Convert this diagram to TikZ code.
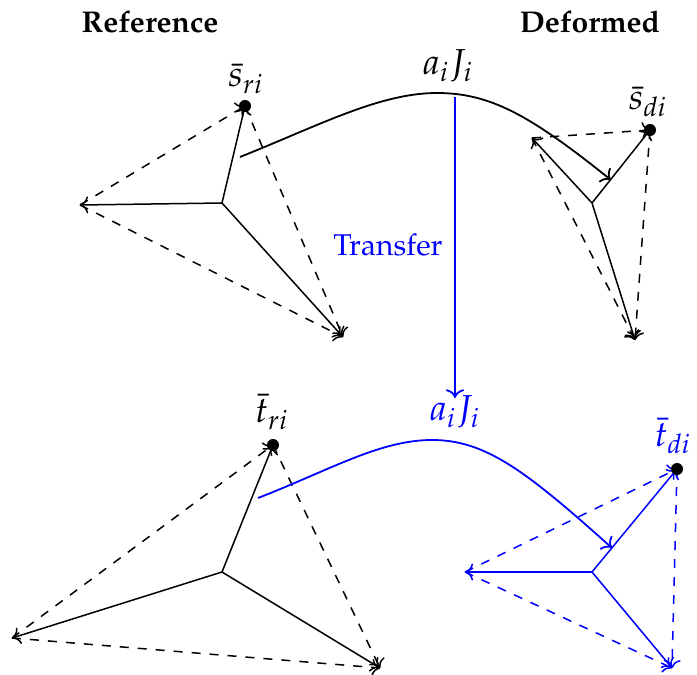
\documentclass[tikz,border=0pt]{standalone}
\usepackage[T1]{fontenc}
\usepackage{mathpazo}
\usetikzlibrary{arrows.meta}
\tikzset{
  punta/.style={circle,fill=black,inner sep=0pt,minimum size=4pt},
  brazo/.style={->,line width=0.5pt},
  borde/.style={->,dashed,line width=0.5pt},
  mapa/.style={->,line width=0.6pt},
  titulo/.style={font=\bfseries},
  etiq/.style={inner sep=0.5pt,font=\large},
}

\begin{document}
\begin{tikzpicture}[x=0.0117cm,y=-0.0117cm]
\useasboundingbox (0,0) rectangle (697,675);
% titles
\node[titulo] (tref) at (150,22) {Reference};
\node[titulo] (tdef) at (590,22) {Deformed};
% reference, top
\coordinate (rc) at (222,203);
\coordinate (rs) at (245,106);
\coordinate (rl) at (80,205);
\coordinate (rb) at (343,337);
% deformed, top
\coordinate (dc) at (592,203);
\coordinate (ds) at (650,130);
\coordinate (dl) at (532,138);
\coordinate (db) at (635,340);
% reference, bottom
\coordinate (tc) at (222,572);
\coordinate (ts) at (273,445);
\coordinate (tl) at (12,638);
\coordinate (tb) at (380,668);
% deformed, bottom
\coordinate (uc) at (592,572);
\coordinate (us) at (677,469);
\coordinate (ul) at (465,572);
\coordinate (ub) at (672,668);
\draw[brazo] (rc) -- (rs);
\draw[brazo] (rc) -- (rl);
\draw[brazo] (rc) -- (rb);
\draw[borde] (rl) -- (rs);
\draw[borde] (rs) -- (rb);
\draw[borde] (rl) -- (rb);
\draw[brazo] (dc) -- (ds);
\draw[brazo] (dc) -- (dl);
\draw[brazo] (dc) -- (db);
\draw[borde] (dl) -- (ds);
\draw[borde] (ds) -- (db);
\draw[borde] (dl) -- (db);
\draw[brazo] (tc) -- (ts);
\draw[brazo] (tc) -- (tl);
\draw[brazo] (tc) -- (tb);
\draw[borde] (tl) -- (ts);
\draw[borde] (ts) -- (tb);
\draw[borde] (tl) -- (tb);
\draw[brazo,blue] (uc) -- (us);
\draw[brazo,blue] (uc) -- (ul);
\draw[brazo,blue] (uc) -- (ub);
\draw[borde,blue] (ul) -- (us);
\draw[borde,blue] (us) -- (ub);
\draw[borde,blue] (ul) -- (ub);
\node[punta] (prs) at (rs) {};
\node[punta] (pds) at (ds) {};
\node[punta] (pts) at (ts) {};
\node[punta] (pus) at (us) {};
\node[etiq] (lrs) at (246,79) {$\bar{s}_{ri}$};
\node[etiq] (lds) at (648,102) {$\bar{s}_{di}$};
\node[etiq] (lts) at (272,412) {$\bar{t}_{ri}$};
\node[etiq,blue] (lus) at (673,436) {$\bar{t}_{di}$};
% maps
\coordinate (m0) at (240,157);
\coordinate (m1) at (611,180);
\coordinate (n0) at (258,498);
\coordinate (n1) at (612,548);
\draw[mapa] (m0) .. controls (320,125) and (380,93) .. (437,93)
  .. controls (490,93) and (530,115) .. (m1);
\draw[mapa,blue] (n0) .. controls (330,470) and (380,440) .. (432,440)
  .. controls (485,440) and (525,470) .. (n1);
\node[etiq] (ja) at (448,66) {$a_iJ_i$};
\node[etiq,blue] (jb) at (455,412) {$a_iJ_i$};
\coordinate (v0) at (455,97);
\coordinate (v1) at (455,398);
\draw[mapa,blue] (v0) -- (v1);
\node[blue] (tr) at (388,245) {Transfer};
\end{tikzpicture}
\end{document}
